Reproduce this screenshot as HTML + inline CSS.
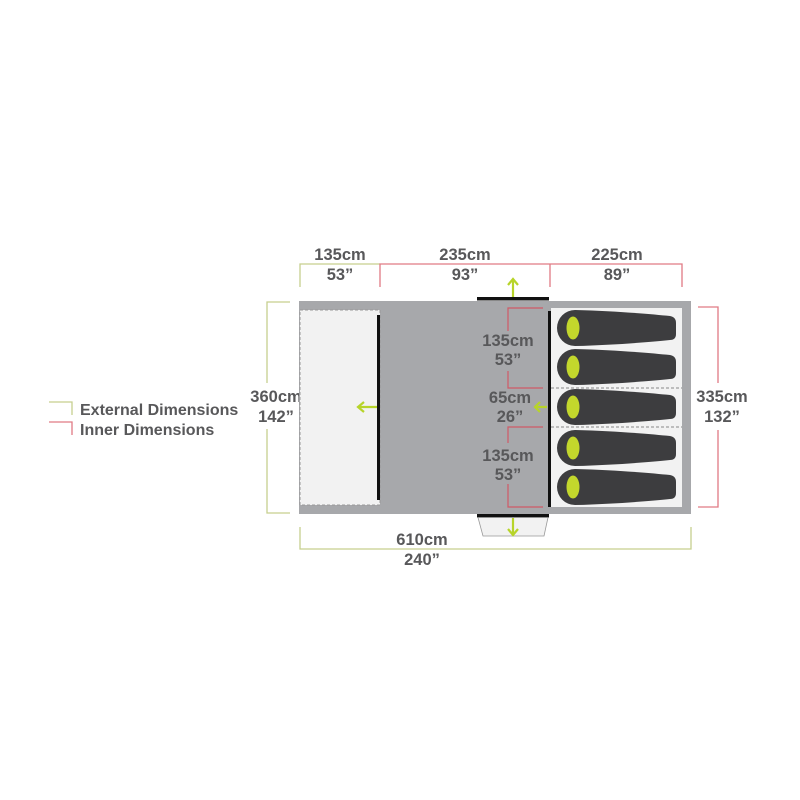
<!DOCTYPE html>
<html><head><meta charset="utf-8"><style>
html,body{margin:0;padding:0;background:#fff;}
svg{display:block}
text{font-family:"Liberation Sans",sans-serif;font-weight:bold;fill:#58585a;font-size:16.5px;text-anchor:middle}
</style></head><body>
<svg width="800" height="800" viewBox="0 0 800 800">
<defs>
<g id="bag">
<path d="M575,-18 C615,-17 650,-14 670,-12 Q676,-11 676,-5 L676,6 Q676,12 670,12 C650,14 615,17 575,18 A18,18 0 0 1 575,-18 Z" fill="#3d3d3f"/>
<ellipse cx="573" cy="0" rx="6.5" ry="11.5" fill="#c3d72c"/>
</g>
</defs>
<g fill="none" stroke-width="1.3">
<path d="M300,287 V264 H380" stroke="#c6cf8e"/>
<path d="M380,287 V264 H682 V287 M550,264 V287" stroke="#e07a84"/>
<path d="M290,302 H267 V383 M267,429 V513 H290" stroke="#c6cf8e"/>
<path d="M698,307 H718 V383 M718,430 V507 H698" stroke="#e07a84"/>
<path d="M300,527 V549 H691 V527" stroke="#c6cf8e"/>
<path d="M49,402 H72 V415" stroke="#c6cf8e"/>
<path d="M49,422 H72 V435" stroke="#e07a84"/>
</g>
<text x="340" y="260">135cm</text><text x="340" y="280">53”</text>
<text x="465" y="260">235cm</text><text x="465" y="280">93”</text>
<text x="617" y="260">225cm</text><text x="617" y="280">89”</text>
<text x="276" y="402">360cm</text><text x="276" y="422">142”</text>
<text x="722" y="402">335cm</text><text x="722" y="422">132”</text>
<text x="422" y="545">610cm</text><text x="422" y="565">240”</text>
<text x="80" y="415" style="text-anchor:start;font-size:16px">External Dimensions</text>
<text x="80" y="435" style="text-anchor:start;font-size:16px">Inner Dimensions</text>
<rect x="299" y="301" width="392" height="213" fill="#a7a8ab"/>
<rect x="300" y="310" width="80" height="195" fill="#f2f2f2" stroke="#999" stroke-dasharray="3,2" stroke-width="1"/>
<rect x="551" y="308" width="131" height="199" fill="#f2f2f2"/>
<line x1="551" y1="388" x2="682" y2="388" stroke="#888" stroke-dasharray="3,2"/>
<line x1="551" y1="427" x2="682" y2="427" stroke="#888" stroke-dasharray="3,2"/>
<use href="#bag" y="328"/><use href="#bag" y="367"/><use href="#bag" y="407"/><use href="#bag" y="448"/><use href="#bag" y="487"/>
<rect x="377" y="315" width="3" height="185" fill="#111"/>
<rect x="548" y="311" width="3" height="196" fill="#111"/>
<rect x="477" y="297" width="72" height="3.5" fill="#111"/>
<rect x="477" y="514" width="72" height="3.5" fill="#111"/>
<path d="M478,517.5 L548,517.5 L544,536 L483,536 Z" fill="#f2f2f2" stroke="#999" stroke-width="0.8"/>
<g fill="none" stroke="#d05a66" stroke-width="1.2">
<path d="M543,308 H508 V331 M508,371 V388 H543"/>
<path d="M543,427 H508 V443 M508,484 V507 H543"/>
</g>
<text x="508" y="346">135cm</text><text x="508" y="365">53”</text>
<text x="510" y="403">65cm</text><text x="510" y="422">26”</text>
<text x="508" y="461">135cm</text><text x="508" y="480">53”</text>
<g stroke="#b7d42a" stroke-width="2.2" fill="none">
<path d="M513,297 V279 M508,285 L513,279 L518,285"/>
<path d="M513,518 V535 M508,529 L513,535 L518,529"/>
<path d="M377,407 H358 M364,402 L358,407 L364,412"/>
<path d="M547,407 H535 M540,402 L535,407 L540,412"/>
</g>
</svg>
</body></html>
